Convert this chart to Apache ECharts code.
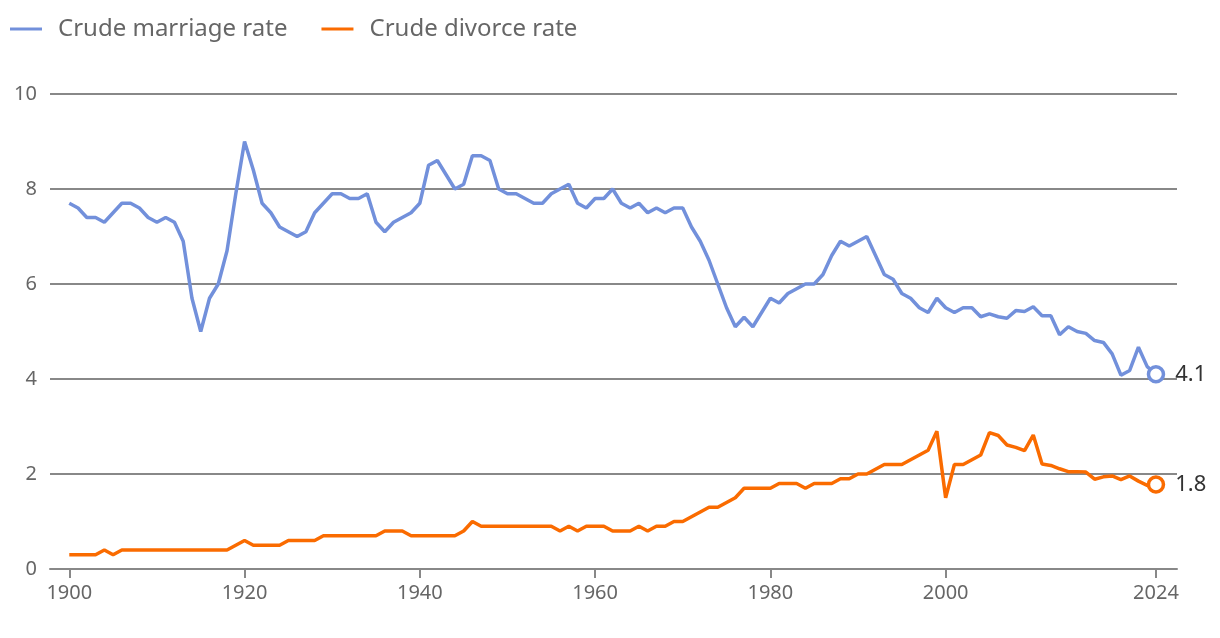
<!DOCTYPE html>
<html>
<head>
<meta charset="utf-8">
<script src="https://cdn.jsdelivr.net/npm/echarts@6/dist/echarts.min.js"></script>
<style>html,body{margin:0;padding:0;background:#fff}#c{width:1220px;height:638px}</style>
</head>
<body>
<div id="c"></div>
<script>
const years = [1900,1901,1902,1903,1904,1905,1906,1907,1908,1909,
1910,1911,1912,1913,1914,1915,1916,1917,1918,1919,
1920,1921,1922,1923,1924,1925,1926,1927,1928,1929,
1930,1931,1932,1933,1934,1935,1936,1937,1938,1939,
1940,1941,1942,1943,1944,1945,1946,1947,1948,1949,
1950,1951,1952,1953,1954,1955,1956,1957,1958,1959,
1960,1961,1962,1963,1964,1965,1966,1967,1968,1969,
1970,1971,1972,1973,1974,1975,1976,1977,1978,1979,
1980,1981,1982,1983,1984,1985,1986,1987,1988,1989,
1990,1991,1992,1993,1994,1995,1996,1997,1998,1999,
2000,2001,2002,2003,2004,2005,2006,2007,2008,2009,
2010,2011,2012,2013,2014,2015,2016,2017,2018,2019,
2020,2021,2022,2023,2024];

const marriageRate = [7.7,7.6,7.4,7.4,7.3,7.5,7.7,7.7,7.6,7.4,
7.3,7.4,7.3,6.9,5.7,5.0,5.7,6.0,6.7,7.9,
9.0,8.4,7.7,7.5,7.2,7.1,7.0,7.1,7.5,7.7,
7.9,7.9,7.8,7.8,7.9,7.3,7.1,7.3,7.4,7.5,
7.7,8.5,8.6,8.3,8.0,8.1,8.7,8.7,8.6,8.0,
7.9,7.9,7.8,7.7,7.7,7.9,8.0,8.1,7.7,7.6,
7.8,7.8,8.0,7.7,7.6,7.7,7.5,7.6,7.5,7.6,
7.6,7.2,6.9,6.5,6.0,5.5,5.1,5.3,5.1,5.4,
5.7,5.6,5.8,5.9,6.0,6.0,6.2,6.6,6.9,6.8,
6.9,7.0,6.6,6.2,6.1,5.8,5.7,5.5,5.4,5.7,
5.5,5.4,5.5,5.5,5.31,5.37,5.31,5.28,5.44,5.42,
5.52,5.33,5.33,4.93,5.1,5.0,4.96,4.81,4.77,4.53,
4.08,4.18,4.67,4.26,4.1];

const divorceRate = [0.3,0.3,0.3,0.3,0.4,0.3,0.4,0.4,0.4,0.4,
0.4,0.4,0.4,0.4,0.4,0.4,0.4,0.4,0.4,0.5,
0.6,0.5,0.5,0.5,0.5,0.6,0.6,0.6,0.6,0.7,
0.7,0.7,0.7,0.7,0.7,0.7,0.8,0.8,0.8,0.7,
0.7,0.7,0.7,0.7,0.7,0.8,1.0,0.9,0.9,0.9,
0.9,0.9,0.9,0.9,0.9,0.9,0.8,0.9,0.8,0.9,
0.9,0.9,0.8,0.8,0.8,0.9,0.8,0.9,0.9,1.0,
1.0,1.1,1.2,1.3,1.3,1.4,1.5,1.7,1.7,1.7,
1.7,1.8,1.8,1.8,1.7,1.8,1.8,1.8,1.9,1.9,
2.0,2.0,2.1,2.2,2.2,2.2,2.3,2.4,2.5,2.9,
1.5,2.2,2.2,2.3,2.4,2.87,2.81,2.61,2.56,2.49,
2.82,2.21,2.18,2.11,2.05,2.05,2.04,1.89,1.94,1.96,
1.88,1.96,1.85,1.76,1.78];

const seriesNames = ['Crude marriage rate', 'Crude divorce rate'];
const xTickValues = [1900, 1920, 1940, 1960, 1980, 2000, 2024];
const yTickValues = [0, 2, 4, 6, 8, 10];

const colors = ['#7290db', '#fa6b00'];
const font = '"Noto Sans", "Open Sans", sans-serif';

function buildSeries(name, values, color) {
  const last = values.length - 1;
  return {
    name: name,
    type: 'line',
    data: values.map((v, i) => {
      const item = { value: [years[i], v] };
      if (i === last) {
        item.symbol = 'circle';
        item.symbolSize = 15;
        item.itemStyle = { color: '#fff', borderColor: color, borderWidth: 3.5 };
        item.label = {
          show: true, position: 'right', distance: 10,
          formatter: p => p.value[1].toFixed(1),
          fontSize: 22, color: '#333', fontFamily: font
        };
      }
      return item;
    }),
    symbol: 'none',
    showSymbol: true,
    lineStyle: { width: 3.5, color: color },
    itemStyle: { color: color },
    emphasis: { disabled: true },
    animation: false,
    z: 3
  };
}

const chart = echarts.init(document.getElementById('c'), null, { renderer: 'canvas' });
chart.setOption({
  animation: false,
  color: colors,
  textStyle: { fontFamily: font },
  legend: {
    left: 5, top: 12,
    itemWidth: 32, itemHeight: 3, itemGap: 34,
    icon: 'rect',
    itemStyle: { borderWidth: 0 },
    textStyle: { fontSize: 24, color: '#666', fontFamily: font, padding: [0, 0, 0, 11] },
    data: seriesNames.map((n, i) => ({ name: n, itemStyle: { color: colors[i] } }))
  },
  grid: { left: 50, right: 43, top: 94, bottom: 69, containLabel: false },
  xAxis: {
    type: 'value',
    min: 1897.8, max: 2026.4,
    splitLine: { show: false },
    axisLine: { show: true, lineStyle: { color: '#888', width: 2 } },
    axisTick: { show: true, customValues: xTickValues, length: 9, lineStyle: { color: '#888', width: 2 } },
    axisLabel: { customValues: xTickValues, fontSize: 20, color: '#666', margin: 14, fontFamily: font, formatter: v => String(v) }
  },
  yAxis: {
    type: 'value',
    min: 0, max: 10, interval: 2,
    axisLine: { show: false },
    axisTick: { show: false },
    axisLabel: { fontSize: 20, color: '#666', margin: 13, fontFamily: font },
    splitLine: { show: true, lineStyle: { color: '#888', width: 2 } }
  },
  series: [
    buildSeries(seriesNames[0], marriageRate, colors[0]),
    buildSeries(seriesNames[1], divorceRate, colors[1])
  ]
});
</script>
</body>
</html>
